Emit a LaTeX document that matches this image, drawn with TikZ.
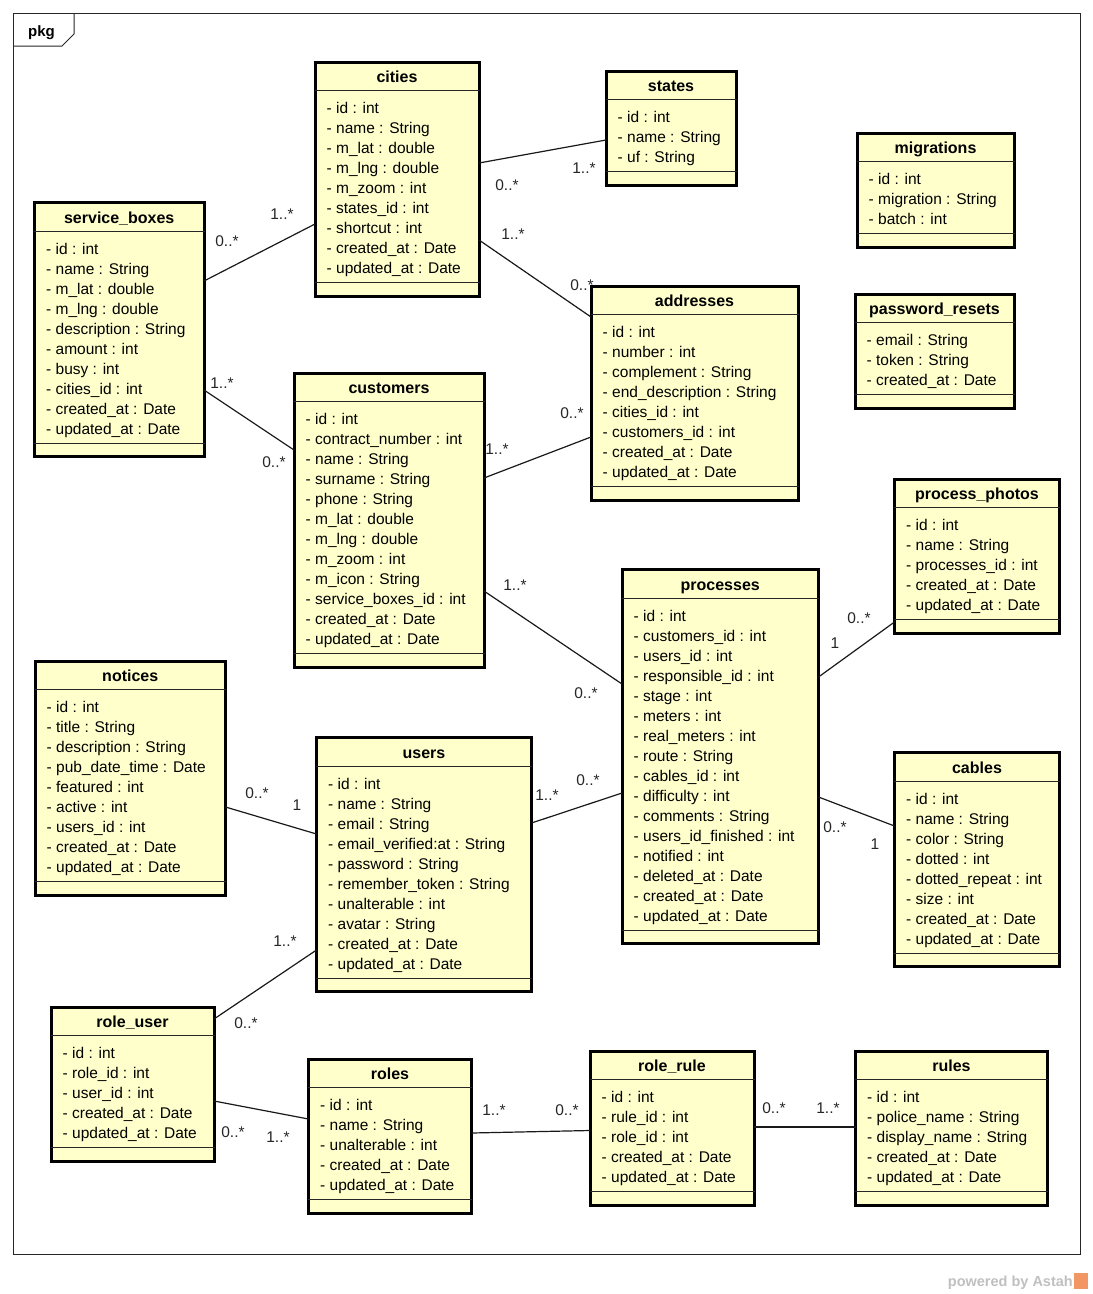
\documentclass[tikz,border=0pt]{standalone}
\usepackage{fontspec}
\setmainfont{Liberation Sans}
\usetikzlibrary{calc}
\definecolor{boxfill}{RGB}{255,255,204}
\definecolor{wm}{RGB}{192,192,192}
\definecolor{logo}{RGB}{242,150,100}
\tikzset{
  classbox/.style={draw=black, line width=3pt, fill=boxfill, rectangle, inner sep=0pt, outer sep=0pt},
  sepline/.style={line width=1pt, draw=black!85},
  titletext/.style={font=\fontsize{16}{16}\selectfont\bfseries, inner sep=0pt, anchor=base},
  attrtext/.style={font=\fontsize{15.5}{15.5}\selectfont, inner sep=0pt, anchor=base west},
  assoc/.style={line width=1.2pt, draw=black!90},
  mult/.style={font=\fontsize{15.5}{15.5}\selectfont, inner sep=0pt, text=black!85},
  framestyle/.style={line width=1pt, draw=black!85},
}
\newcommand\umlclass[7]{%
  \pgfmathsetmacro\umlW{#4-#2-3}%
  \pgfmathsetmacro\umlH{57+20*#5-3}%
  \node[classbox, minimum width=\umlW pt, minimum height=\umlH pt, anchor=north west] (#1) at ({#2+1.5},{#3+1.5}) {};
  \node[titletext] (#1-title) at ({(#2+#4)/2},{#3+22}) {#6};
  \draw[sepline] ({#2+1},{#3+30}) -- ({#4-1},{#3+30});
  \draw[sepline] ({#2+1},{#3+42+20*#5}) -- ({#4-1},{#3+42+20*#5});
  \foreach \a [count=\i from 0] in {#7} {
    \node[attrtext] (#1-a\i) at ({#2+13},{#3+53+20*\i}) {\a};
  }
}
\begin{document}
\begin{tikzpicture}[x=1pt,y=-1pt]
\useasboundingbox (0,0) rectangle (1093,1294);
\fill[white] (0,0) rectangle (1093,1294);
% package frame
\draw[framestyle] (13,13) rectangle (1080,1254);
\draw[framestyle] (13,46) -- (62,46) -- (74,34) -- (74,13);
\node[font=\fontsize{15}{15}\selectfont\bfseries, inner sep=0pt, anchor=base] (pkg) at (41.5,36) {pkg};

\umlclass{cities}{313.5}{60.5}{480.5}{9}{cities}{- id : int, - name : String, - m\_lat : double, - m\_lng : double, - m\_zoom : int, - states\_id : int, - shortcut : int, - created\_at : Date, - updated\_at : Date}
\umlclass{states}{604.5}{69.5}{737.5}{3}{states}{- id : int, - name : String, - uf : String}
\umlclass{migrations}{855.5}{131.5}{1015.5}{3}{migrations}{- id : int, - migration : String, - batch : int}
\umlclass{pwresets}{853.5}{292.5}{1015.5}{3}{password\_resets}{- email : String, - token : String, - created\_at : Date}
\umlclass{sboxes}{33}{201}{205.5}{10}{service\_boxes}{- id : int, - name : String, - m\_lat : double, - m\_lng : double, - description : String, - amount : int, - busy : int, - cities\_id : int, - created\_at : Date, - updated\_at : Date}
\umlclass{addresses}{589.5}{284.5}{799.5}{8}{addresses}{- id : int, - number : int, - complement : String, - end\_description : String, - cities\_id : int, - customers\_id : int, - created\_at : Date, - updated\_at : Date}
\umlclass{customers}{292.5}{371.5}{485.5}{12}{customers}{- id : int, - contract\_number : int, - name : String, - surname : String, - phone : String, - m\_lat : double, - m\_lng : double, - m\_zoom : int, - m\_icon : String, - service\_boxes\_id : int, - created\_at : Date, - updated\_at : Date}
\umlclass{photos}{893}{477.5}{1061}{5}{process\_photos}{- id : int, - name : String, - processes\_id : int, - created\_at : Date, - updated\_at : Date}
\umlclass{processes}{620.5}{568}{820}{16}{processes}{- id : int, - customers\_id : int, - users\_id : int, - responsible\_id : int, - stage : int, - meters : int, - real\_meters : int, - route : String, - cables\_id : int, - difficulty : int, - comments : String, - users\_id\_finished : int, - notified : int, - deleted\_at : Date, - created\_at : Date, - updated\_at : Date}
\umlclass{notices}{33.5}{659.5}{227}{9}{notices}{- id : int, - title : String, - description : String, - pub\_date\_time : Date, - featured : int, - active : int, - users\_id : int, - created\_at : Date, - updated\_at : Date}
\umlclass{users}{315}{736}{533}{10}{users}{- id : int, - name : String, - email : String, - email\_verified:at : String, - password : String, - remember\_token : String, - unalterable : int, - avatar : String, - created\_at : Date, - updated\_at : Date}
\umlclass{cables}{893}{751}{1061}{8}{cables}{- id : int, - name : String, - color : String, - dotted : int, - dotted\_repeat : int, - size : int, - created\_at : Date, - updated\_at : Date}
\umlclass{roleuser}{49.5}{1005.5}{215.5}{5}{role\_user}{- id : int, - role\_id : int, - user\_id : int, - created\_at : Date, - updated\_at : Date}
\umlclass{roles}{307}{1057.5}{473}{5}{roles}{- id : int, - name : String, - unalterable : int, - created\_at : Date, - updated\_at : Date}
\umlclass{rolerule}{588.5}{1049.5}{755.5}{5}{role\_rule}{- id : int, - rule\_id : int, - role\_id : int, - created\_at : Date, - updated\_at : Date}
\umlclass{rules}{854}{1049.5}{1049}{5}{rules}{- id : int, - police\_name : String, - display\_name : String, - created\_at : Date, - updated\_at : Date}

% associations
\draw[assoc] (sboxes.east |- 0,281) -- (cities.west |- 0,224);
\draw[assoc] (sboxes.east |- 0,390) -- (customers.west |- 0,450);
\draw[assoc] (cities.east |- 0,163) -- (states.west |- 0,140);
\draw[assoc] (cities.east |- 0,240) -- (addresses.west |- 0,317);
\draw[assoc] (customers.east |- 0,478) -- (addresses.west |- 0,437);
\draw[assoc] (customers.east |- 0,591) -- (processes.west |- 0,684);
\draw[assoc] (users.east |- 0,823) -- (processes.west |- 0,793);
\draw[assoc] (processes.east |- 0,677) -- (photos.west |- 0,622);
\draw[assoc] (processes.east |- 0,797) -- (cables.west |- 0,826);
\draw[assoc] (notices.east |- 0,807) -- (users.west |- 0,834);
\draw[assoc] (users.west |- 0,950) -- (roleuser.east |- 0,1019);
\draw[assoc] (roleuser.east |- 0,1101) -- (roles.west |- 0,1119);
\draw[assoc] (roles.east |- 0,1133) -- (rolerule.west |- 0,1130.5);
\draw[assoc] (rolerule.east |- 0,1127) -- (rules.west |- 0,1127);

% multiplicities
\node[mult] (m1a) at (227,241) {0..*};
\node[mult] (m1b) at (282,214) {1..*};
\node[mult] (m2a) at (222,383) {1..*};
\node[mult] (m2b) at (274,462) {0..*};
\node[mult] (m3a) at (507,185) {0..*};
\node[mult] (m3b) at (584,168) {1..*};
\node[mult] (m4a) at (513,234) {1..*};
\node[mult] (m4b) at (582,285) {0..*};
\node[mult] (m5a) at (497,449) {1..*};
\node[mult] (m5b) at (572,413) {0..*};
\node[mult] (m6a) at (515,585) {1..*};
\node[mult] (m6b) at (586,693) {0..*};
\node[mult] (m7a) at (547,795) {1..*};
\node[mult] (m7b) at (588,780) {0..*};
\node[mult] (m8a) at (835,643) {1};
\node[mult] (m8b) at (859,618) {0..*};
\node[mult] (m9a) at (835,827) {0..*};
\node[mult] (m9b) at (875,844) {1};
\node[mult] (m10a) at (257,793) {0..*};
\node[mult] (m10b) at (297,805) {1};
\node[mult] (m11a) at (285,941) {1..*};
\node[mult] (m11b) at (246,1023) {0..*};
\node[mult] (m12a) at (233,1132) {0..*};
\node[mult] (m12b) at (278,1137) {1..*};
\node[mult] (m13a) at (494,1110) {1..*};
\node[mult] (m13b) at (567,1110) {0..*};
\node[mult] (m14a) at (774,1108) {0..*};
\node[mult] (m14b) at (828,1108) {1..*};

% watermark
\node[font=\fontsize{14.5}{14.5}\selectfont\bfseries, text=wm, anchor=base east, inner sep=0pt] (wmark) at (1073,1286) {powered by Astah};
\fill[logo] (1074,1273) rectangle (1088,1289);
\end{tikzpicture}
\end{document}
